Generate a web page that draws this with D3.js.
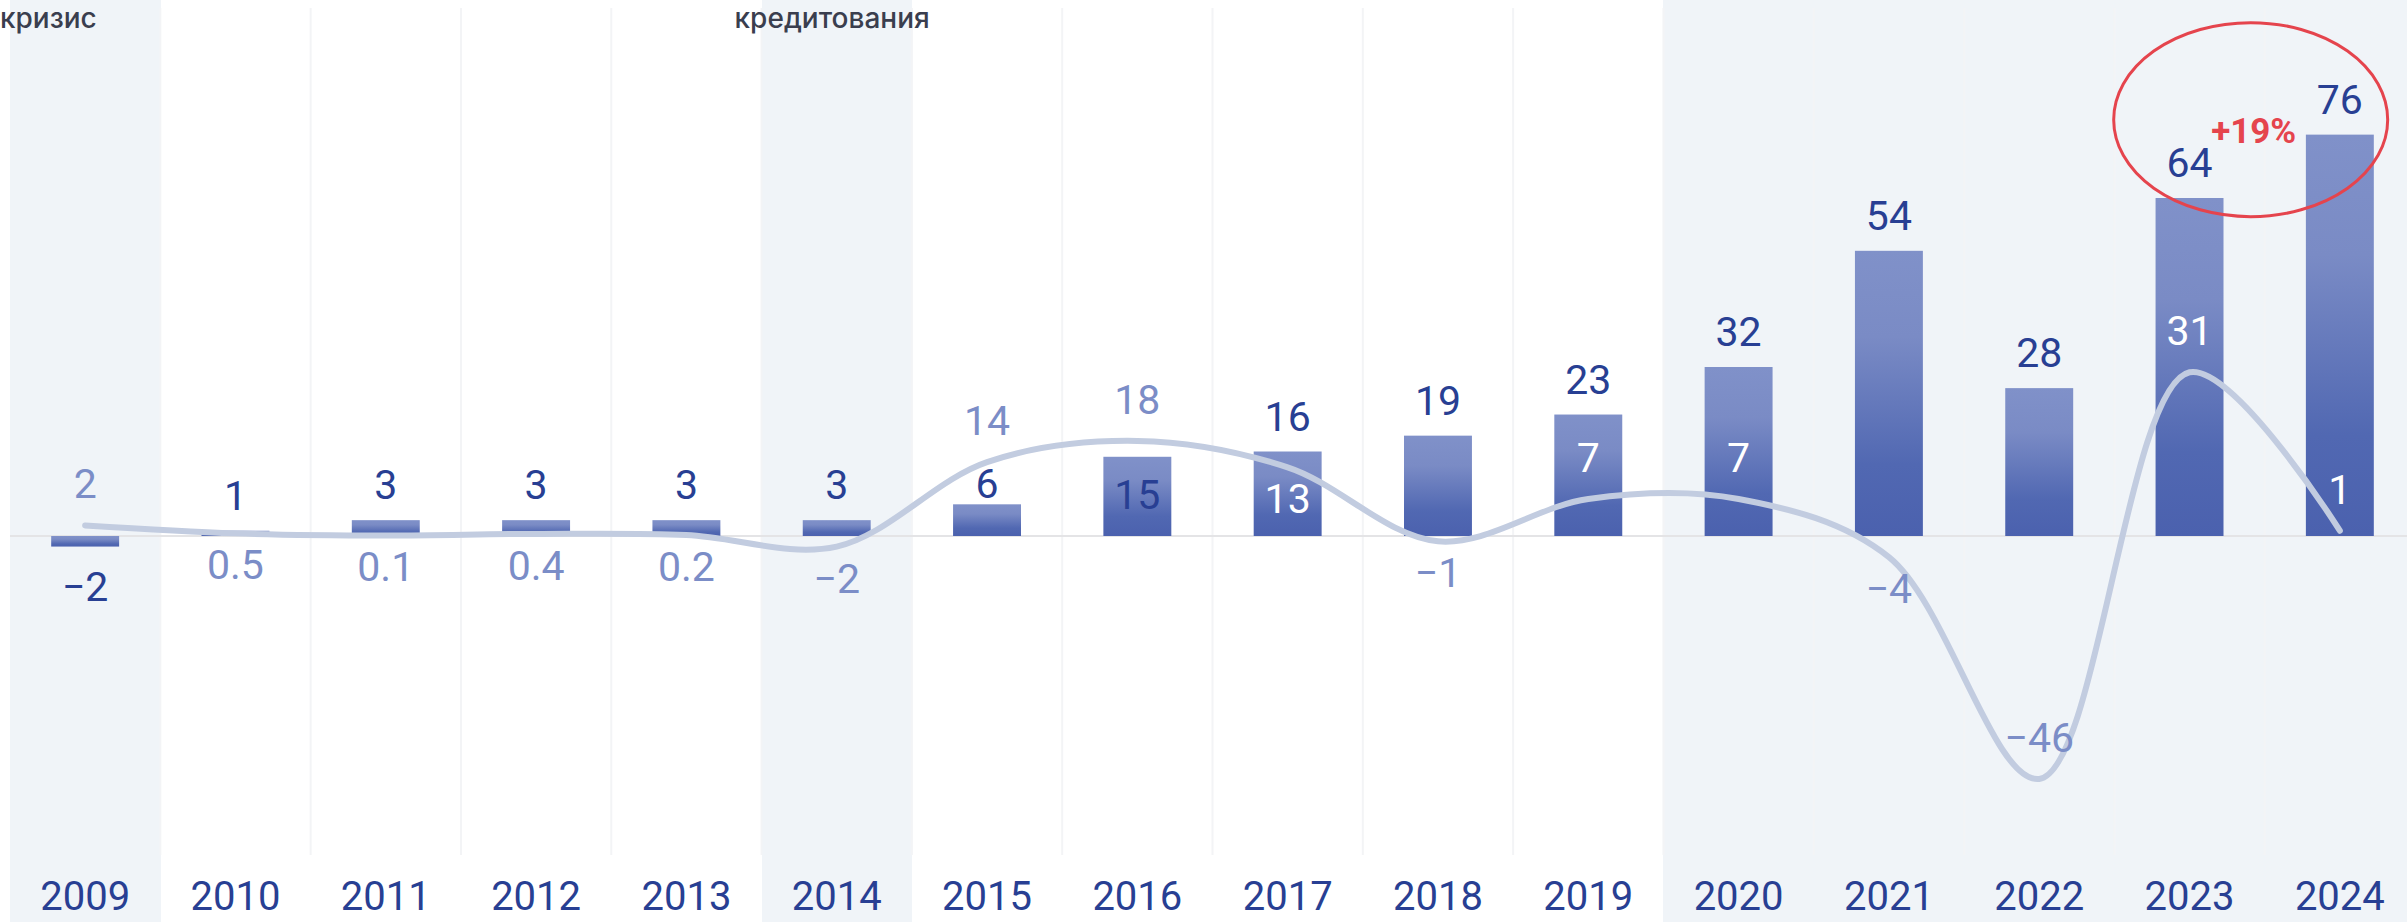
<!DOCTYPE html>
<html lang="ru">
<head>
    <meta charset="UTF-8">
    <title>D3</title>
    <style>
        html, body { margin: 0; padding: 0; background: #ffffff; }
        svg { display: block; font-family: Roboto, "Noto Sans", sans-serif; }
    </style>
</head>
<body>
    <svg id="main-svg" width="2407" height="922"></svg>

    <script src="https://cdn.jsdelivr.net/npm/d3@7/dist/d3.min.js"></script>
    <script>
        // chart data
        const years = [2009, 2010, 2011, 2012, 2013, 2014, 2015, 2016, 2017, 2018, 2019, 2020, 2021, 2022, 2023, 2024];
        const barValues = [-2, 1, 3, 3, 3, 3, 6, 15, 16, 19, 23, 32, 54, 28, 64, 76];
        const lineValues = [2, 0.5, 0.1, 0.4, 0.2, -2, 14, 18, 13, -1, 7, 7, -4, -46, 31, 1];
        const shadedYears = [2009, 2014, 2020, 2021, 2022, 2023, 2024];
        const noteYears = [2009, 2014];
        const noteTexts = ['кризис', 'кредитования'];

        const W = 2407, H = 922;
        const navy = '#283f93', lightBlue = '#7b8dc7', lineColor = '#c2cce0';

        const svg = d3.select('#main-svg');

        // columns and bars share the same range
        let col = d3.scaleBand().domain(years).range([10, 2415]).padding(0);
        let x = d3.scaleBand().domain(years).range([10, 2415]).paddingInner(0.548).paddingOuter(0.274);
        let y = d3.scaleLinear().domain([-64, 96]).range([874, 29]);
        let cx = d => x(d) + x.bandwidth() / 2;

        let fmt = d3.format('');

        // gradient for the bars
        let grad = svg.append('defs').append('linearGradient')
            .attr('id', 'barGrad')
            .attr('x1', 0).attr('y1', 0).attr('x2', 0).attr('y2', 1);
        [[0, '#8091c9'], [0.3, '#7a8bc5'], [0.75, '#5168b2'], [1, '#4b61ae']].forEach(s => {
            grad.append('stop').attr('offset', s[0]).attr('stop-color', s[1]);
        });

        // shaded columns
        svg.append('g').selectAll('rect')
            .data(shadedYears)
            .enter()
            .append('rect')
            .attr('x', d => col(d))
            .attr('y', 0)
            .attr('width', col.step() + 0.5)
            .attr('height', H)
            .attr('shape-rendering', 'crispEdges')
            .attr('fill', '#f0f4f8');

        // vertical grid between columns
        svg.append('g').selectAll('line')
            .data(years.slice(1))
            .enter()
            .append('line')
            .attr('x1', d => col(d)).attr('x2', d => col(d))
            .attr('y1', 8).attr('y2', 855)
            .attr('stroke', '#f3f4f6')
            .attr('stroke-width', 2);

        // zero line
        svg.append('line')
            .attr('x1', 10).attr('x2', W)
            .attr('y1', y(0)).attr('y2', y(0))
            .attr('stroke', '#e4e4e6')
            .attr('stroke-width', 2);

        let rows = years.map((yr, i) => ({ year: yr, b: barValues[i], l: lineValues[i] }));

        // bars
        svg.append('g').selectAll('rect')
            .data(rows)
            .enter()
            .append('rect')
            .attr('x', d => x(d.year))
            .attr('y', d => y(Math.max(d.b, 0)))
            .attr('width', x.bandwidth())
            .attr('height', d => Math.abs(y(d.b) - y(0)))
            .attr('fill', 'url(#barGrad)');

        // smooth line
        let line = d3.line()
            .x(d => cx(d.year))
            .y(d => y(d.l))
            .curve(d3.curveCatmullRom);

        svg.append('path')
            .datum(rows)
            .attr('d', line)
            .attr('fill', 'none')
            .attr('stroke', lineColor)
            .attr('stroke-width', 6)
            .attr('stroke-linecap', 'round');

        // label placement rules
        const cap = 29;
        let barLabel = d => {
            let yb = y(Math.max(d.b, 0)), yl = y(d.l);
            if (d.b < 0) return { y: y(d.b) + 54, fill: navy };
            if (d.l > d.b && yb - yl < 30) return { y: yb + 52, fill: navy };
            let base = yb - 21;
            if (d.l > d.b) base = Math.min(yb - 6, Math.max(base, yl + 8 + cap));
            return { y: base, fill: navy };
        };
        let lineLabel = d => {
            let yb = y(Math.max(d.b, 0)), yl = y(d.l), y0 = y(0);
            if (d.l >= d.b) return { y: yl - 27, fill: lightBlue };
            if (d.l > 0 && yl - yb > 60) return { y: yl - 27, fill: '#ffffff' };
            let base = yl + 46;
            if (base > 800) return { y: yl - 27, fill: lightBlue };
            let inside = (base - cap) >= yb && base <= y0;
            return { y: base, fill: inside ? '#ffffff' : lightBlue };
        };

        svg.append('g').selectAll('text')
            .data(rows)
            .enter()
            .append('text')
            .attr('x', d => cx(d.year))
            .attr('y', d => barLabel(d).y)
            .attr('fill', d => barLabel(d).fill)
            .attr('text-anchor', 'middle')
            .attr('font-size', 41)
            .attr('font-weight', 400)
            .text(d => fmt(d.b));

        svg.append('g').selectAll('text')
            .data(rows)
            .enter()
            .append('text')
            .attr('x', d => cx(d.year))
            .attr('y', d => lineLabel(d).y)
            .attr('fill', d => lineLabel(d).fill)
            .attr('text-anchor', 'middle')
            .attr('font-size', 41)
            .attr('font-weight', 400)
            .text(d => fmt(d.l));

        // year axis
        let xAxis = d3.axisBottom(x).tickSize(0).tickPadding(0);
        let gx = svg.append('g').attr('transform', 'translate(0,882)').call(xAxis);
        gx.select('.domain').remove();
        gx.selectAll('text')
            .attr('dy', '0.71em')
            .attr('fill', navy)
            .attr('font-size', 40)
            .attr('font-weight', 400)
            .attr('font-family', 'Roboto, "Noto Sans", sans-serif');

        // notes on top, left aligned a little before their column, kept inside the page
        svg.append('g').selectAll('text')
            .data(noteYears)
            .enter()
            .append('text')
            .attr('x', d => Math.max(0, col(d) - 27))
            .attr('y', 28)
            .attr('fill', '#3a3e4e')
            .attr('font-family', 'Inter, "DejaVu Sans", sans-serif')
            .attr('font-size', 28)
            .attr('font-weight', 500)
            .text((d, i) => noteTexts[i]);

        // growth of the last year
        let n = barValues.length;
        let growth = barValues[n - 1] / barValues[n - 2] - 1;
        let ex = (cx(years[n - 2]) + cx(years[n - 1])) / 2 - 14;
        let ey = y(barValues[n - 1]) - 15;

        svg.append('ellipse')
            .attr('cx', ex).attr('cy', ey)
            .attr('rx', 137).attr('ry', 97)
            .attr('fill', 'none')
            .attr('stroke', '#e5444d')
            .attr('stroke-width', 3);

        svg.append('text')
            .attr('x', ex + 3)
            .attr('y', ey + 23)
            .attr('text-anchor', 'middle')
            .attr('fill', '#e5444d')
            .attr('font-size', 35)
            .attr('font-weight', 700)
            .text(d3.format('+.0%')(growth));
    </script>
</body>
</html>
